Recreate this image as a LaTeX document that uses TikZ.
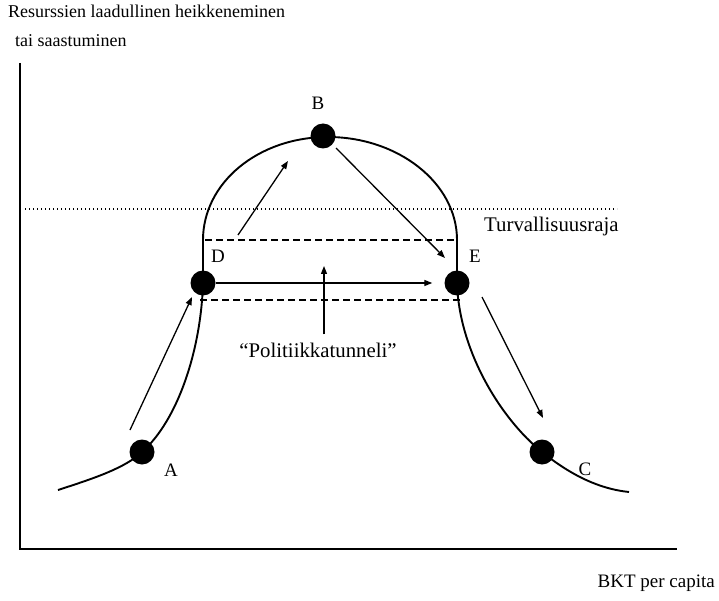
\documentclass[tikz,border=0pt]{standalone}
\usepackage{fontspec}
\setmainfont{Liberation Serif}
\usetikzlibrary{arrows.meta}

\begin{document}
\begin{tikzpicture}[x=1pt, y=-1pt,
    dot/.style={circle, fill=black, inner sep=0pt, minimum size=25pt},
    lbl/.style={font=\fontsize{19}{22}\selectfont, inner sep=0pt, anchor=base},
    arr/.style={line width=1.3pt, -{Triangle[length=8pt, width=6pt]}}]
    \useasboundingbox (0,0) rectangle (719,601);

    % Axes
    \coordinate (o) at (20,549);
    \coordinate (ytop) at (20,63);
    \coordinate (xend) at (677,549);
    \draw[line width=2.6pt] (ytop) -- (o) -- (xend);

    % Axis texts
    \node[font=\fontsize{18}{21}\selectfont, inner sep=0pt, anchor=base west] (ylab1) at (8,18) {Resurssien laadullinen heikkeneminen};
    \node[font=\fontsize{18}{21}\selectfont, inner sep=0pt, anchor=base west] (ylab2) at (15,47) {tai saastuminen};
    \node[lbl, anchor=base east] (xlab) at (715,587) {BKT per capita};

    % Safety limit
    \coordinate (s1) at (25,209);
    \coordinate (s2) at (617,209);
    \draw[line width=1.3pt, dash pattern=on 1.3pt off 2.7pt] (s1) -- (s2);
    \node[lbl, font=\fontsize{20.8}{24}\selectfont, anchor=base west] (safe) at (484,232) {Turvallisuusraja};

    % Tunnel
    \coordinate (t1) at (205,240);
    \coordinate (t2) at (457,240);
    \coordinate (t3) at (200,300);
    \coordinate (t4) at (460,300);
    \draw[line width=1.3pt, dash pattern=on 7pt off 4pt] (t1) -- (t2);
    \draw[line width=1.3pt, dash pattern=on 7pt off 4pt] (t3) -- (t4);

    % Curve
    \draw[line width=1.9pt] (58,490) .. controls (95,478) and (125,468) .. (142,452)
        .. controls (178,420) and (201,350) .. (203,283) -- (203,240)
        .. controls (203,183) and (258,137) .. (328,137)
        .. controls (398,137) and (457,183) .. (457,240) -- (457,283)
        .. controls (459,350) and (500,418) .. (542,452)
        .. controls (572,476) and (600,489) .. (629,492);

    % Define nodes
    \node[dot] (A) at (142,452) {};
    \node[dot] (D) at (203,283) {};
    \node[dot] (B) at (323,136) {};
    \node[dot] (E) at (457,283) {};
    \node[dot] (C) at (542,452) {};

    % Labels
    \node[lbl] (la) at (171,476) {A};
    \node[lbl] (lb) at (318,110) {B};
    \node[lbl] (lc) at (585,475) {C};
    \node[lbl] (ld) at (218,263) {D};
    \node[lbl] (le) at (475,263) {E};

    % Arrows
    \coordinate (a1) at (130,430);
    \coordinate (a2) at (192,297);
    \coordinate (a3) at (238,235);
    \coordinate (a4) at (288,161);
    \coordinate (a5) at (336,148);
    \coordinate (a6) at (445,258);
    \coordinate (a7) at (482,297);
    \coordinate (a8) at (543,418);
    \draw[arr] (a1) -- (a2);
    \draw[arr] (a3) -- (a4);
    \draw[arr] (a5) -- (a6);
    \draw[arr] (a7) -- (a8);
    \draw[arr, shorten >=12pt] (D.east) -- (E.west |- D.east);

    % Policy tunnel
    \node[lbl, font=\fontsize{20.8}{24}\selectfont] (pol) at (318,357) {“Politiikkatunneli”};
    \coordinate (up) at (324,266);
    \draw[arr] (pol.north -| up) ++(0,-8) -- (up);
\end{tikzpicture}
\end{document}
